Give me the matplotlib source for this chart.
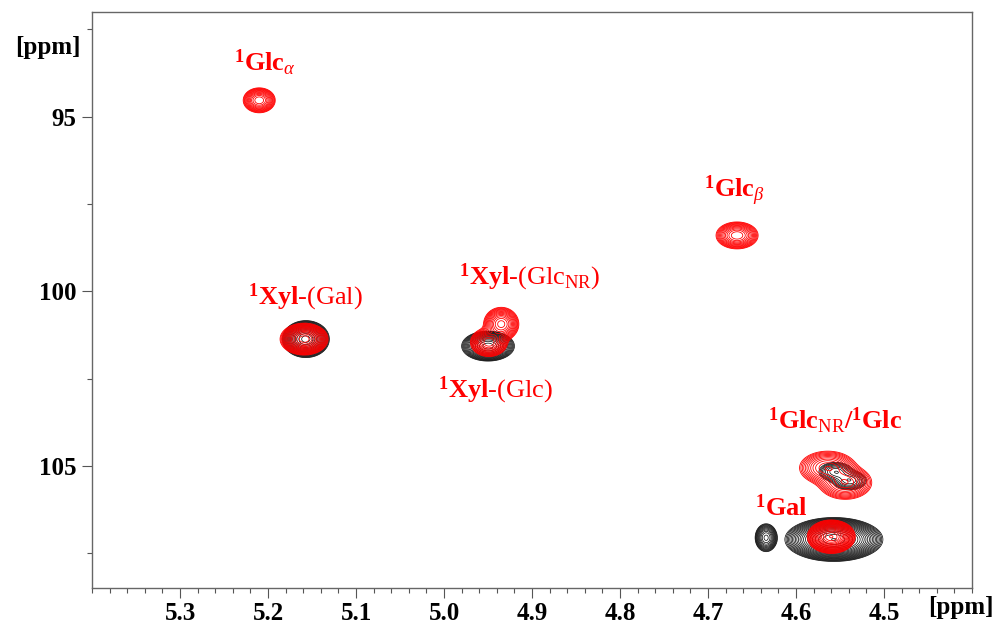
import numpy as np
import matplotlib as mpl
import matplotlib.pyplot as plt
from matplotlib.ticker import MultipleLocator

mpl.rcParams['font.family'] = 'serif'
mpl.rcParams['font.serif'] = ['Liberation Serif', 'DejaVu Serif']
mpl.rcParams['mathtext.fontset'] = 'custom'
mpl.rcParams['mathtext.rm'] = 'Liberation Serif'
mpl.rcParams['mathtext.it'] = 'Liberation Serif:italic'
mpl.rcParams['mathtext.bf'] = 'Liberation Serif:bold'

# HSQC cross peaks: 1H shift, 13C shift, outer contour half-widths (1H, 13C), height
red_h = [5.210, 4.667, 5.159, 4.935, 4.949, 4.564, 4.544, 4.560]
red_c = [94.53, 98.40, 101.37, 100.94, 101.46, 105.06, 105.48, 107.03]
red_wh = [0.0182, 0.0239, 0.0273, 0.0200, 0.0210, 0.0320, 0.0300, 0.0273]
red_wc = [0.357, 0.386, 0.457, 0.480, 0.410, 0.480, 0.480, 0.480]
red_amp = [30, 30, 80, 35, 30, 18, 18, 150]

black_h = [5.157, 4.950, 4.555, 4.539, 4.557, 4.634]
black_c = [101.37, 101.57, 105.17, 105.42, 107.11, 107.06]
black_wh = [0.0267, 0.0300, 0.0190, 0.0190, 0.0557, 0.0125]
black_wc = [0.530, 0.430, 0.270, 0.270, 0.630, 0.400]
black_amp = [100, 60, 8, 8, 250, 20]

# peak assignments: label, 1H, 13C (left/baseline anchor)
labels = [r'$^{\mathbf{1}}\mathbf{Glc}_{\alpha}$',
          r'$^{\mathbf{1}}\mathbf{Glc}_{\beta}$',
          r'$^{\mathbf{1}}\mathbf{Xyl}$-(Gal)',
          r'$^{\mathbf{1}}\mathbf{Xyl}$-(Glc$_{\mathrm{NR}}$)',
          r'$^{\mathbf{1}}\mathbf{Xyl}$-(Glc)',
          r'$^{\mathbf{1}}\mathbf{Glc}_{\mathrm{NR}}\mathbf{/}^{\mathbf{1}}\mathbf{Glc}$',
          r'$^{\mathbf{1}}\mathbf{Gal}$']
label_h = [5.2386, 4.7045, 5.2227, 4.983, 5.0068, 4.6318, 4.6466]
label_c = [93.71, 97.31, 100.37, 99.80, 103.03, 103.94, 106.43]

h_axis = np.linspace(5.4, 4.4, 1600)
c_axis = np.linspace(92.0, 108.5, 1000)
H, C = np.meshgrid(h_axis, c_axis)


def spectrum(hs, cs, wh, wc, amp):
    z = np.zeros_like(H)
    for h, c, w1, w2, a in zip(hs, cs, wh, wc, amp):
        s = np.sqrt(2 * np.log(a))
        z += a * np.exp(-0.5 * (((H - h) / (w1 / s)) ** 2 + ((C - c) / (w2 / s)) ** 2))
    return z


levels = 1.0 * 1.3 ** np.arange(24)

fig = plt.figure(figsize=(9.98, 6.25), dpi=100)
ax = fig.add_axes([0.0922, 0.0592, 0.8818, 0.9216])

ax.contour(H, C, spectrum(black_h, black_c, black_wh, black_wc, black_amp),
           levels=levels, colors='black', linewidths=0.5, zorder=2)
ax.contour(H, C, spectrum(red_h, red_c, red_wh, red_wc, red_amp),
           levels=levels, colors='#ff0000', linewidths=0.6, zorder=3)

for txt, x, y in zip(labels, label_h, label_c):
    ax.text(x, y, txt, color='#ff0000', fontsize=19, ha='left', va='baseline')

ax.set_xlim(5.4, 4.4)
ax.set_ylim(108.5, 92.0)
ax.xaxis.set_minor_locator(MultipleLocator(0.02))
ax.yaxis.set_minor_locator(MultipleLocator(2.5))
ax.set_xticks(np.arange(4.5, 5.35, 0.1))
ax.set_yticks([95, 100, 105])

ax.tick_params(which='major', length=7, width=0.8, color='#555555', labelsize=18)
ax.tick_params(which='minor', length=3.5, width=0.8, color='#555555')
ax.tick_params(axis='x', pad=3)
ax.tick_params(axis='y', pad=4)
for lab in ax.get_xticklabels() + ax.get_yticklabels():
    lab.set_fontweight('bold')
for sp in ax.spines.values():
    sp.set_color('#666666')
    sp.set_linewidth(1.0)

fig.text(0.015, 0.914, '[ppm]', fontsize=18, fontweight='bold', ha='left', va='baseline')
fig.text(0.930, 0.0176, '[ppm]', fontsize=18, fontweight='bold', ha='left', va='baseline')

fig.savefig('out.png', dpi=100)
